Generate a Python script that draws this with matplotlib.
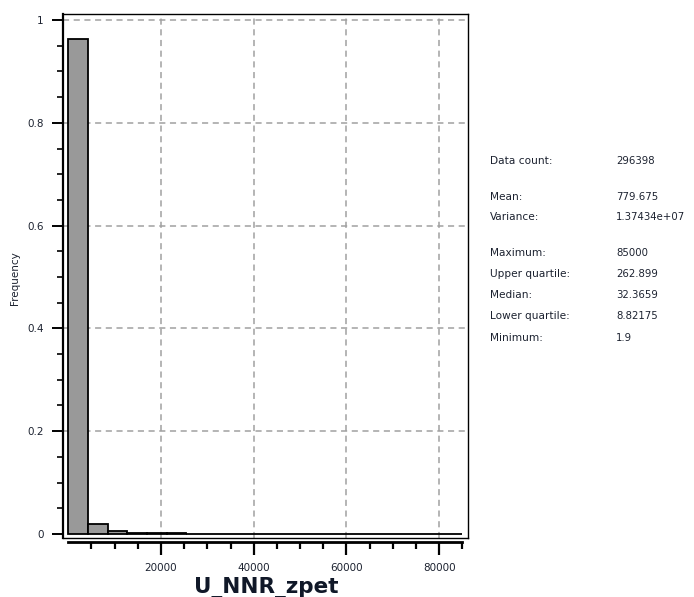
import numpy as np
import matplotlib
matplotlib.use("Agg")
import matplotlib.pyplot as plt
from matplotlib.ticker import FixedLocator, FuncFormatter

# Histogram of U_NNR_zpet: 20 equal-width bins between the minimum and maximum
data_min = 1.9
data_max = 85000.0
n_bins = 20
frequency = [0.964, 0.019, 0.0064, 0.0025, 0.0015, 0.0010, 0.0008, 0.0006,
             0.0005, 0.0004, 0.0004, 0.0003, 0.0003, 0.0002, 0.0002, 0.0002,
             0.0002, 0.0001, 0.0001, 0.0006]

stat_names = ["Data count:", "Mean:", "Variance:", "Maximum:", "Upper quartile:",
              "Median:", "Lower quartile:", "Minimum:"]
stat_values = ["296398", "779.675", "1.37434e+07", "85000", "262.899",
               "32.3659", "8.82175", "1.9"]
stat_rows_px = [161, 197, 217, 253, 274, 295, 316, 338]

x_major = [20000, 40000, 60000, 80000]
x_minor = [v for v in range(5000, 85001, 5000) if v not in x_major]
y_major = [0, 0.2, 0.4, 0.6, 0.8, 1.0]
y_minor = [round(v, 2) for v in np.arange(0.05, 1.0, 0.05) if round(v, 2) not in [0.2, 0.4, 0.6, 0.8]]

W, H = 694, 597
fig = plt.figure(figsize=(W / 100, H / 100), dpi=100)
left, right, top, bottom = 63, 468, 14, 538
ax = fig.add_axes([left / W, 1 - bottom / H, (right - left) / W, (bottom - top) / H])

edges = np.linspace(data_min, data_max, n_bins + 1)
ax.bar(edges[:-1], frequency, width=np.diff(edges), align="edge",
       color="#999999", edgecolor="black", linewidth=1.3, zorder=3)

ax.set_xlim(-1143, 86236)
ax.set_ylim(-0.0078, 1.0117)

# dashed grid
grid_kw = dict(color="#a0a0a0", linewidth=1.1, linestyle=(0, (4, 3)), zorder=1)
for gx in x_major:
    ax.axvline(gx, **grid_kw)
for gy in y_major[1:]:
    ax.axhline(gy, **grid_kw)

# frame: thin box plus a heavier x axis offset below it
for s in ["top", "right"]:
    ax.spines[s].set_linewidth(1.0)
ax.spines["left"].set_linewidth(1.6)
ax.plot([0, 1], [0, 0], transform=ax.transAxes, color="black", lw=1.0,
        clip_on=False, zorder=4)
ax.spines["bottom"].set_position(("outward", 3))
ax.spines["bottom"].set_bounds(0, data_max)
ax.spines["bottom"].set_linewidth(2.0)

ax.xaxis.set_major_locator(FixedLocator(x_major))
ax.xaxis.set_minor_locator(FixedLocator(x_minor))
ax.yaxis.set_major_locator(FixedLocator(y_major))
ax.yaxis.set_minor_locator(FixedLocator(y_minor))
ax.yaxis.set_major_formatter(FuncFormatter(lambda v, p: f"{v:g}"))
ax.xaxis.set_major_formatter(FuncFormatter(lambda v, p: f"{v:.0f}"))

lab_color = "#1c2230"
ax.tick_params(axis="x", which="major", length=9, width=1.6, pad=6,
               labelsize=7.5, labelcolor=lab_color)
ax.tick_params(axis="x", which="minor", length=5, width=1.6)
ax.tick_params(axis="y", which="major", length=8, width=1.4, pad=6,
               labelsize=7.5, labelcolor=lab_color)
ax.tick_params(axis="y", which="minor", length=4.5, width=1.2)

fig.text(15 / W, 1 - 278 / H, "Frequency", rotation=90, ha="center",
         va="center", fontsize=7.5, color=lab_color)
fig.text(266 / W, 1 - 593 / H, "U_NNR_zpet", ha="center", va="baseline",
         fontsize=15.5, fontweight="bold", color="#101828")

for name, val, ypx in zip(stat_names, stat_values, stat_rows_px):
    fig.text(490 / W, 1 - ypx / H, name, ha="left", va="center",
             fontsize=7.6, color=lab_color)
    fig.text(616 / W, 1 - ypx / H, val, ha="left", va="center",
             fontsize=7.3, color=lab_color)

fig.savefig("out.png", dpi=100)
